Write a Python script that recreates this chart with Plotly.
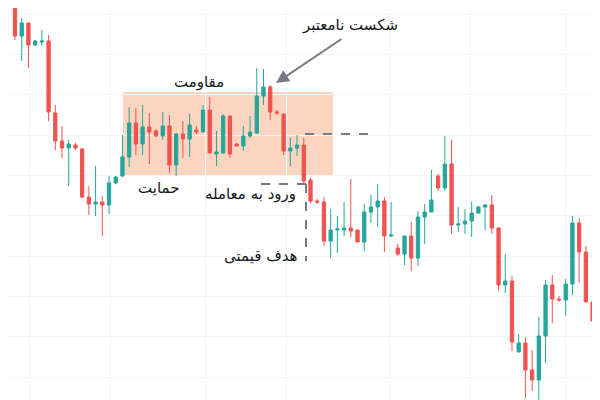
import plotly.graph_objects as go

# Candle readings as depth below the top of the chart (price = TOP - depth)
TOP = 400
open_d = [-10,28,15,37,34,33,105,133,140,137,141,189,196,194,197,175,168,149,115,136,119,123,128,118,157,126,131,122,124,102,146,145,108,136,138,128,125,88,79,104,106,143,140,137,172,193,194,233,222,222,220,222,234,204,199,193,228,240,246,228,250,209,204,168,180,156,217,216,213,205,199,197,220,277,273,344,335,362,372,328,277,291,292,276,215,244,294,317]
close_d = [28,15,37,33,33,104,133,140,136,140,189,196,194,197,175,169,149,115,136,119,124,128,118,157,126,131,117,124,102,145,144,108,146,138,128,124,88,79,104,105,143,140,137,173,193,194,233,222,221,220,223,234,204,199,193,228,227,246,228,250,209,204,192,180,156,217,216,213,205,199,197,220,277,273,334,335,362,372,328,277,291,292,276,215,244,294,313,316]
high_d = [-15,10,15,32,22,27,97,118,132,135,140,178,158,188,168,168,127,99,100,97,105,121,104,107,125,113,106,118,97,89,123,106,108,135,118,108,60,61,77,102,106,130,127,130,170,191,189,201,208,194,171,222,196,187,176,189,194,236,228,214,203,196,162,166,128,132,199,201,194,198,196,187,219,246,268,326,329,342,309,272,267,288,271,208,210,238,283,315]
low_d = [32,53,60,38,38,113,142,150,178,142,190,207,208,228,206,176,169,159,147,147,156,129,132,165,168,150,149,126,124,145,158,146,150,139,143,130,126,97,112,107,147,158,148,175,195,196,238,250,245,228,229,234,243,215,219,244,229,248,257,263,258,236,204,183,183,226,224,226,229,206,222,226,283,285,343,344,390,383,396,355,315,294,308,287,275,294,319,318]

opens = [TOP - v for v in open_d]
closes = [TOP - v for v in close_d]
highs = [TOP - v for v in high_d]
lows = [TOP - v for v in low_d]
xs = list(range(len(opens)))

def px(xp):
    return (xp - 7) / 6.716

def py(yp):
    return TOP - yp

fig = go.Figure()
fig.add_shape(type="rect", x0=px(115), x1=px(325), y0=py(167), y1=py(84),
              fillcolor="#fcd5c0", opacity=1, line_width=0, layer="below")
fig.add_trace(go.Candlestick(
    x=xs, open=opens, high=highs, low=lows, close=closes,
    increasing=dict(line=dict(color="#26a69a", width=1), fillcolor="#26a69a"),
    decreasing=dict(line=dict(color="#ef5350", width=1), fillcolor="#ef5350"),
    whiskerwidth=0, showlegend=False, hoverinfo="skip"))

gx = [px(v) for v in [21, 102, 197, 278, 381, 462, 557]]
fig.update_xaxes(range=[px(0), px(600)], tickvals=gx, showticklabels=False,
                 showgrid=True, gridcolor="#f3f4f7", zeroline=False,
                 rangeslider_visible=False)
fig.update_yaxes(range=[0, 400], tick0=31, dtick=40.3, showticklabels=False,
                 showgrid=True, gridcolor="#f3f4f7", zeroline=False)

dash = dict(color="#787b86", width=2, dash="dash")
fig.add_shape(type="line", x0=px(297), x1=px(368), y0=py(126), y1=py(126), line=dash)
fig.add_shape(type="line", x0=px(253), x1=px(298), y0=py(176), y1=py(176), line=dash)
fig.add_shape(type="line", x0=px(298), x1=px(298), y0=py(176), y1=py(253), line=dash)

font = dict(family="DejaVu Sans", size=15, color="#131722")
texts = [("شکست نامعتبر", 342, 17), ("مقاومت", 191, 74), ("حمایت", 150, 180),
         ("ورود به معامله", 242, 186), ("هدف قیمتی", 253, 248)]
for t, x, y in texts:
    fig.add_annotation(x=px(x), y=py(y), text=t, showarrow=False, font=font)
fig.add_annotation(x=px(268), y=py(75), ax=px(335), ay=py(30), axref="x", ayref="y",
                   text="", showarrow=True, arrowhead=2, arrowsize=1.3, arrowwidth=2,
                   arrowcolor="#787b86")

fig.update_layout(width=600, height=400, margin=dict(l=0, r=0, t=0, b=0),
                  plot_bgcolor="white", paper_bgcolor="white")
fig.write_html("out.html")
